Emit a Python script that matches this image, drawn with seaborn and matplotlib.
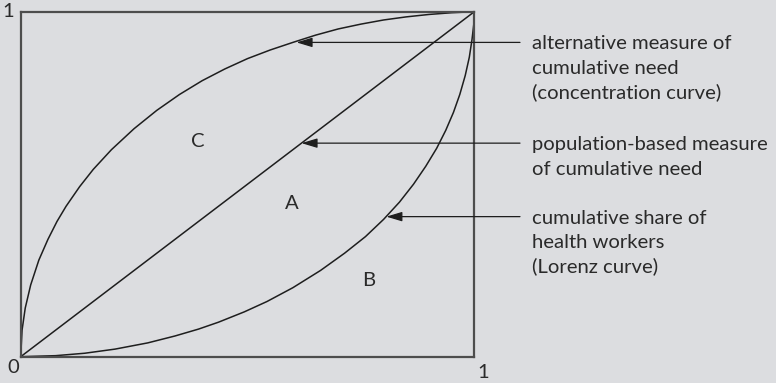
import matplotlib
matplotlib.use("Agg")
import matplotlib.pyplot as plt
import seaborn as sns
import pandas as pd

# ---- data (estimated positions along each curve) ----
conc_x = [0, 0.003, 0.010, 0.022, 0.040, 0.060, 0.080, 0.100, 0.130, 0.160, 0.200, 0.250,
          0.300, 0.350, 0.400, 0.450, 0.500, 0.550, 0.600, 0.650, 0.700, 0.750, 0.800,
          0.850, 0.900, 0.950, 1.0]
conc_y = [0, 0.077, 0.141, 0.208, 0.280, 0.340, 0.392, 0.436, 0.493, 0.543, 0.600, 0.661,
          0.714, 0.760, 0.800, 0.834, 0.864, 0.889, 0.911, 0.932, 0.950, 0.964, 0.976,
          0.985, 0.992, 0.997, 1.0]

diag_x = [0, 1.0]
diag_y = [0, 1.0]

lor_x = [0, 0.077, 0.141, 0.208, 0.280, 0.340, 0.392, 0.436, 0.493, 0.543, 0.600, 0.661,
         0.714, 0.760, 0.800, 0.835, 0.866, 0.893, 0.917, 0.937, 0.954, 0.968, 0.980,
         0.989, 0.995, 0.999, 1.0]
lor_y = [0, 0.003, 0.010, 0.022, 0.040, 0.060, 0.080, 0.100, 0.130, 0.160, 0.200, 0.250,
         0.300, 0.348, 0.398, 0.448, 0.500, 0.552, 0.604, 0.656, 0.708, 0.760, 0.815,
         0.868, 0.920, 0.965, 1.0]

region_labels = ["C", "A", "B"]
region_x = [0.390, 0.597, 0.768]
region_y = [0.625, 0.445, 0.220]

callout_texts = [
    ["alternative measure of", "cumulative need", "(concentration curve)"],
    ["population-based measure", "of cumulative need"],
    ["cumulative share of", "health workers", "(Lorenz curve)"],
]
callout_tip_x = [0.608, 0.619, 0.806]
callout_tip_y = [0.911, 0.619, 0.406]

corner_labels = ["1", "0", "1"]

# ---- styling ----
BG = "#dcdde0"
INK = "#1e1e1e"
BOX = "#4d4d4d"

sns.set_theme(style="white")
plt.rcParams["font.family"] = ["Lato", "DejaVu Sans"]

W, H = 776, 383
fig = plt.figure(figsize=(W / 100, H / 100), dpi=100, facecolor=BG)
L, R, T, B = 20.7, 474.3, 11.7, 356.7
ax = fig.add_axes([L / W, 1 - B / H, (R - L) / W, (B - T) / H])
ax.set_facecolor(BG)

df_c = pd.DataFrame({"x": conc_x, "y": conc_y})
df_d = pd.DataFrame({"x": diag_x, "y": diag_y})
df_l = pd.DataFrame({"x": lor_x, "y": lor_y})
for d in (df_c, df_d, df_l):
    sns.lineplot(data=d, x="x", y="y", ax=ax, sort=False, color=INK, lw=1.1,
                 estimator=None, clip_on=False)

ax.set_xlim(0, 1)
ax.set_ylim(0, 1)
ax.set_xticks([])
ax.set_yticks([])
ax.set_xlabel("")
ax.set_ylabel("")
for s in ax.spines.values():
    s.set_visible(True)
    s.set_color(BOX)
    s.set_linewidth(1.6)

FS = 14.6
for lab, x, y in zip(region_labels, region_x, region_y):
    ax.text(x, y, lab, ha="center", va="center", fontsize=FS, color="#2a2a2a")

# callouts
tail_x = (520 - L) / (R - L)
text_x = (532.3 - L) / (R - L)
px_to_pt = 72 / 100
for lines, tx, ty in zip(callout_texts, callout_tip_x, callout_tip_y):
    ax.annotate("", xy=(tx, ty), xytext=(tail_x, ty), xycoords="data",
                textcoords="data", annotation_clip=False,
                arrowprops=dict(arrowstyle="-|>,head_length=0.8,head_width=0.24",
                                color=INK, lw=0.9, shrinkA=0, shrinkB=0))
    for i, line in enumerate(lines):
        ax.annotate(line, xy=(text_x, ty), xycoords="data",
                    xytext=(0, -(7 + i * 24.5) * px_to_pt), textcoords="offset points",
                    ha="left", va="baseline", fontsize=FS, color="#2a2a2a",
                    annotation_clip=False)

# corner labels (pixel positions)
corner_pos = [(8.3, 11.5), (13.3, 367.5), (483, 372)]
for lab, (px, py) in zip(corner_labels, corner_pos):
    fig.text(px / W, 1 - py / H, lab, ha="center", va="center", fontsize=FS, color="#2a2a2a")

fig.savefig("out.png", dpi=100, facecolor=BG)
